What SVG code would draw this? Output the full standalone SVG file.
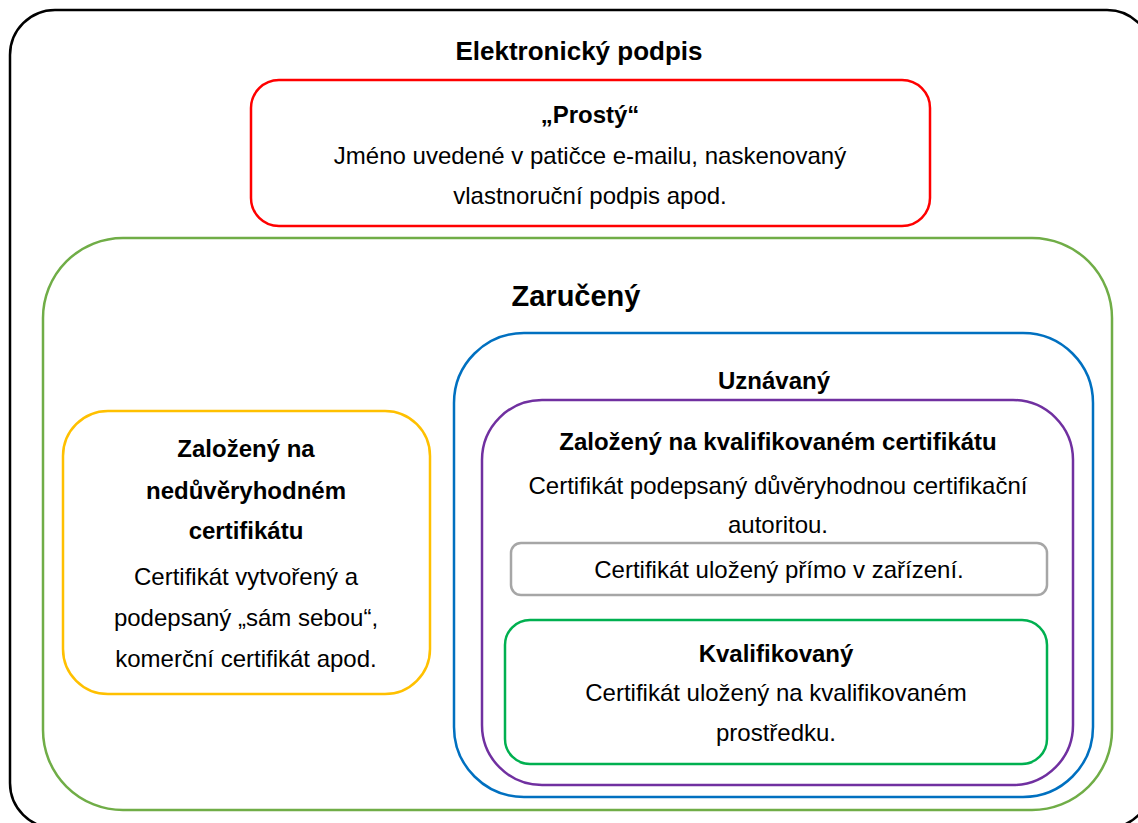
<svg xmlns="http://www.w3.org/2000/svg" width="1138" height="823" viewBox="0 0 1138 823">
<style>
.box{fill:none;stroke-width:2.5}
text{font-family:"Liberation Sans",Arial,sans-serif;fill:#000;text-anchor:middle}
.b{font-weight:bold;font-size:24px}
.r{font-size:24px}
</style>
<rect width="1138" height="823" fill="#fff"/>
<g id="elektronicky">
<rect class="box" x="10" y="10" width="1142" height="818" rx="45" stroke="#000"/>
<text class="b" x="579" y="60" style="font-size:26px">Elektronický podpis</text>
</g>
<g id="prosty">
<rect class="box" x="251" y="80" width="679" height="146" rx="28" stroke="#FF0000"/>
<text class="b" x="590" y="123">„Prostý“</text>
<text class="r" x="590" y="164">Jméno uvedené v patičce e-mailu, naskenovaný</text>
<text class="r" x="590" y="204">vlastnoruční podpis apod.</text>
</g>
<g id="zaruceny">
<rect class="box" x="43" y="238" width="1069" height="572" rx="80" stroke="#70AD47"/>
<text class="b" x="576" y="306" style="font-size:29px">Zaručený</text>
</g>
<g id="nedurveryhodny">
<rect class="box" x="63" y="411" width="367" height="283" rx="45" stroke="#FFC000"/>
<text class="b" x="246" y="457">Založený na</text>
<text class="b" x="246" y="499">nedůvěryhodném</text>
<text class="b" x="246" y="539">certifikátu</text>
<text class="r" x="246" y="585">Certifikát vytvořený a</text>
<text class="r" x="246" y="626">podepsaný „sám sebou“,</text>
<text class="r" x="246" y="667">komerční certifikát apod.</text>
</g>
<g id="uznavany">
<rect class="box" x="454" y="333" width="639" height="464" rx="70" stroke="#0070C0"/>
<text class="b" x="774" y="389">Uznávaný</text>
</g>
<g id="kvalifikovany-certifikat">
<rect class="box" x="482" y="400" width="591" height="385" rx="60" stroke="#7030A0"/>
<text class="b" x="778" y="450">Založený na kvalifikovaném certifikátu</text>
<text class="r" x="778" y="494">Certifikát podepsaný důvěryhodnou certifikační</text>
<text class="r" x="778" y="533">autoritou.</text>
</g>
<g id="zarizeni">
<rect class="box" x="511" y="543" width="536" height="52" rx="10" stroke="#A6A6A6"/>
<text class="r" x="779" y="578">Certifikát uložený přímo v zařízení.</text>
</g>
<g id="kvalifikovany">
<rect class="box" x="505" y="620" width="542" height="144" rx="25" stroke="#00B050"/>
<text class="b" x="776" y="662">Kvalifikovaný</text>
<text class="r" x="776" y="701">Certifikát uložený na kvalifikovaném</text>
<text class="r" x="776" y="741">prostředku.</text>
</g>
<g id="connectors"></g>
</svg>
